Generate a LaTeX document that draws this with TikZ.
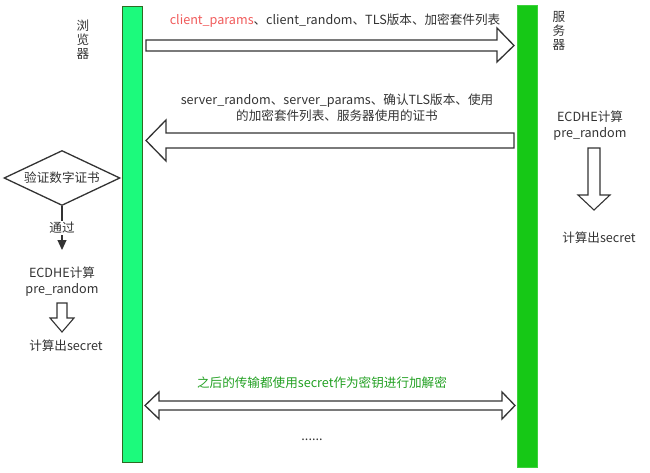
\documentclass[tikz,border=0pt]{standalone}
\usepackage{fontspec}
\setmainfont{Noto Sans CJK SC}
\usetikzlibrary{shapes.geometric,arrows.meta}
\definecolor{txt}{HTML}{333333}
\definecolor{lbar}{HTML}{1CFA7C}
\definecolor{lbarb}{HTML}{2E6A22}
\definecolor{rbar}{HTML}{16C816}
\definecolor{rbarb}{HTML}{3CD23C}
\definecolor{redt}{HTML}{F05A5A}
\definecolor{greent}{HTML}{22A022}
\tikzset{
  lbl/.style={font=\fontsize{12.6}{16}\selectfont, text=txt, inner sep=0pt, align=center},
  blk/.style={draw=txt, line width=1.3pt, fill=white, line join=miter},
}
\begin{document}
\begin{tikzpicture}[x=1pt,y=-1pt]
\useasboundingbox (0,0) rectangle (650,473);
% bars
\fill[lbar, draw=lbarb, line width=1pt] (122,7) rectangle (142,462);
\fill[rbar, draw=rbarb, line width=1pt] (517,6) rectangle (537,467);
\node[lbl, text width=14pt, font=\fontsize{12.6}{14}\selectfont] (browser) at (83,40) {浏\\览\\器};
\node[lbl, text width=14pt, font=\fontsize{12.6}{14}\selectfont] (server) at (559,31) {服\\务\\器};
% arrow 1
\draw[blk] (146,40) -- (497,40) -- (497,28) -- (514,45.5) -- (497,62) -- (497,51) -- (146,51) -- cycle;
\node[lbl] (m1) at (335,21) {\textcolor{redt}{client\_params}、client\_random、TLS版本、加密套件列表};
% arrow 2
\draw[blk] (514,133) -- (166,133) -- (166,120) -- (146,140.5) -- (166,161) -- (166,148) -- (514,148) -- cycle;
\node[lbl] (m2) at (337,108) {server\_random、server\_params、确认TLS版本、使用\\的加密套件列表、服务器使用的证书};
% diamond
\node[lbl, draw=txt, line width=1.3pt, diamond, aspect=2.15, minimum width=116pt, minimum height=55pt, inner sep=0pt] (verify) at (62,178) {验证数字证书};
\coordinate (tip) at (62,250);
\draw[txt, line width=1.2pt, -{Triangle[length=10pt,width=9pt]}] (verify.south) -- (tip);
\node[lbl, fill=white, inner sep=1pt] (pass) at (62,228) {通过};
\node[lbl] (ecl) at (62,282) {ECDHE计算\\pre\_random};
\draw[blk, line width=1.1pt] (57,303) -- (67,303) -- (67,318) -- (74,318) -- (62,332) -- (50,318) -- (57,318) -- cycle;
\node[lbl] (secl) at (66,346) {计算出secret};
% right side
\node[lbl] (ecr) at (590,126) {ECDHE计算\\pre\_random};
\draw[blk, line width=1.1pt] (588,148) -- (600,148) -- (600,195) -- (610,195) -- (594,210) -- (578,195) -- (588,195) -- cycle;
\node[lbl] (secr) at (599,238) {计算出secret};
% bottom double arrow
\draw[blk] (159,401) -- (502,401) -- (502,392) -- (515,405.5) -- (502,419) -- (502,410) -- (159,410) -- (159,419) -- (145,405.5) -- (159,392) -- cycle;
\node[lbl, text=greent] (m3) at (322,383) {之后的传输都使用secret作为密钥进行加解密};
\node[lbl] (dots) at (312,440) {......};
\end{tikzpicture}
\end{document}
